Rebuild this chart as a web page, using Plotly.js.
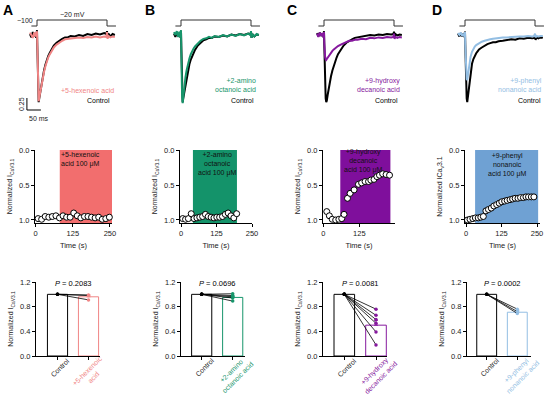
<!DOCTYPE html>
<html><head><meta charset="utf-8">
<script src="https://cdn.plot.ly/plotly-3.0.1.min.js"></script>
<style>html,body{margin:0;padding:0;background:#fff}#chart{width:550px;height:396px}</style>
</head><body><div id="chart"></div>
<script>
// ================= DATA =================
const panelLetters = ['A','B','C','D'];
const drugLegend = ['+5-hexenoic acid', '+2-amino<br>octanoic acid', '+9-hydroxy<br>decanoic acid', '+9-phenyl<br>nonanoic acid'];
const shadeText = ['+5-hexenoic<br>acid 100 μM', '+2-amino<br>octanoic<br>acid 100 μM', '+9-hydroxy<br>decanoic<br>acid 100 μM', '+9-phenyl<br>nonanoic<br>acid 100 μM'];
const catLabels = ['+5-hexenoic<br>acid', '+2-amino<br>octanoic acid', '+9-hydroxy<br>decanoic acid', '+9-phenyl<br>nonanoic acid'];
const drugColors = ['#F08585', '#17956B', '#86199E', '#93BEE3'];
const shadeColors = ['#F26E6E', '#14936A', '#7F0F9C', '#6FA1D3'];

// voltage protocol (ms, mV)
const protoT = [-20, 0, 0, 250, 250, 282];
const protoV = [-100, -100, -20, -20, -100, -100];

// current traces (ms, nA-like units)
const traceT = [-25,-20,-15,-10,-6,-3,-1, 0,1,2,4,6,8,10, 13,16,20,25,30,35,40,45,50, 60,70,80,90,100,110,120, 135,150,165,180,195,210,225,240, 248,250,252,255,262,270,278];
const ctrlA = [0.02,-0.05,0.06,-0.03,0.04,-0.06,0.05, 0.10,-0.20,-0.60,-1.20,-1.40,-1.32,-1.24, -1.12,-1.02,-0.88,-0.74,-0.62,-0.52,-0.44,-0.38,-0.32, -0.22,-0.16,-0.11,-0.08,-0.05,-0.05,-0.02, -0.03,0.00,-0.02,0.02,0.00,0.03,0.01,0.04, 0.02,0.08,-0.06,0.03,-0.03,0.02,0.00];
const drugA = [0.05,0.00,-0.06,0.05,-0.03,0.06,-0.02, 0.08,-0.25,-0.65,-1.22,-1.38,-1.31,-1.24, -1.14,-1.04,-0.91,-0.77,-0.65,-0.55,-0.47,-0.41,-0.35, -0.26,-0.20,-0.15,-0.12,-0.09,-0.08,-0.07, -0.06,-0.05,-0.06,-0.04,-0.05,-0.03,-0.05,-0.03, -0.04,0.06,-0.08,-0.02,-0.05,-0.03,-0.04];
const ctrlB = [0.03,-0.04,0.05,-0.02,0.03,-0.05,0.04, 0.09,-0.22,-0.62,-1.20,-1.40,-1.32,-1.25, -1.12,-1.01,-0.87,-0.73,-0.61,-0.51,-0.43,-0.37,-0.31, -0.22,-0.16,-0.11,-0.09,-0.06,-0.06,-0.03, -0.04,-0.01,-0.03,0.01,-0.01,0.02,0.00,0.03, 0.01,0.07,-0.06,0.02,-0.03,0.01,0.00];
const drugB = [0.06,0.00,0.08,-0.04,0.07,-0.05,0.06, 0.10,-0.30,-0.80,-1.30,-1.42,-1.28,-1.15, -1.00,-0.88,-0.74,-0.60,-0.49,-0.40,-0.33,-0.28,-0.24, -0.17,-0.12,-0.08,-0.07,-0.04,-0.06,-0.02, -0.04,0.00,-0.03,0.01,-0.02,0.02,-0.01,0.03, 0.00,0.08,-0.06,0.02,-0.03,0.02,0.00];
const ctrlC = [0.04,-0.03,0.05,-0.02,0.03,-0.04,0.04, 0.08,-0.20,-0.55,-1.10,-1.32,-1.40,-1.37, -1.25,-1.14,-1.00,-0.86,-0.74,-0.63,-0.54,-0.47,-0.40, -0.30,-0.22,-0.16,-0.12,-0.09,-0.06,-0.05, -0.03,-0.02,0.00,-0.01,0.01,0.00,0.02,0.01, 0.02,0.07,-0.05,0.02,-0.01,0.01,0.00];
const drugC = [0.03,-0.04,0.05,-0.02,0.04,-0.05,0.03, 0.06,-0.15,-0.32,-0.46,-0.51,-0.52,-0.50, -0.47,-0.45,-0.42,-0.38,-0.33,-0.30,-0.27,-0.25,-0.23, -0.20,-0.17,-0.15,-0.12,-0.12,-0.10,-0.10, -0.08,-0.09,-0.06,-0.07,-0.05,-0.06,-0.04,-0.05, -0.04,0.03,-0.08,-0.04,-0.06,-0.04,-0.05];
const ctrlD = [0.03,-0.03,0.04,-0.03,0.03,-0.04,0.03, 0.07,-0.20,-0.55,-1.10,-1.32,-1.40,-1.30, -1.10,-0.94,-0.76,-0.60,-0.50,-0.43,-0.38,-0.34,-0.30, -0.26,-0.22,-0.19,-0.17,-0.15,-0.15,-0.13, -0.12,-0.10,-0.09,-0.10,-0.07,-0.08,-0.06,-0.07, -0.06,0.02,-0.10,-0.05,-0.07,-0.05,-0.06];
const drugD = [0.04,0.00,0.05,-0.02,0.03,-0.03,0.03, 0.06,-0.20,-0.50,-0.80,-0.92,-0.94,-0.85, -0.72,-0.60,-0.45,-0.35,-0.28,-0.24,-0.21,-0.19,-0.17, -0.14,-0.12,-0.10,-0.09,-0.08,-0.07,-0.06, -0.05,-0.05,-0.04,-0.04,-0.03,-0.03,-0.02,-0.03, -0.02,0.03,-0.05,-0.02,-0.03,-0.02,-0.02];
const scaleMs = 50, scaleAmp = 0.25;

// time courses (s, normalized current)
const tcTimeA = [8,20,32,44,56,68,80,92,104,116,128,140,152,164,176,188,200,212,224,236,248];
const tcValA  = [0.98,0.99,0.95,0.96,0.95,0.94,0.97,0.94,0.96,0.96,0.90,0.94,0.97,0.95,0.95,0.96,0.97,0.96,0.99,0.98,0.96];
const tcTimeB = [6,16,26,36,46,56,66,76,86,96,106,116,126,136,146,156,166,176,186,196];
const tcValB  = [0.98,0.99,0.98,0.91,0.98,0.97,0.96,0.95,0.92,0.95,0.96,0.97,0.96,0.96,0.95,0.92,0.90,0.94,0.97,0.91];
const tcTimeC = [12,21,31,43,54,64,72,84,93,107,122,133,145,157,165,176,186,195,206,218,230];
const tcValC  = [0.88,0.94,0.99,1.00,0.99,0.98,0.92,0.69,0.62,0.57,0.49,0.47,0.45,0.45,0.43,0.42,0.38,0.36,0.34,0.35,0.36];
const tcTimeD = [5,14,24,33,43,52,61,70,79,89,98,108,117,126,136,145,155,164,173,183,192,202,211,220,230,239];
const tcValD  = [1.00,0.99,0.98,0.97,0.97,0.96,0.95,0.87,0.85,0.83,0.80,0.78,0.76,0.74,0.73,0.72,0.71,0.70,0.69,0.69,0.68,0.68,0.67,0.67,0.67,0.67];
const shadeStart = [81, 42, 59, 32];
const shadeEnd   = [257, 197, 233, 254];

// bar charts
const ctrlBar = [1.0, 1.0, 1.0, 1.0];
const drugBar = [0.96, 0.95, 0.50, 0.71];
const drugSem = [0.03, 0.02, 0.08, 0.03];
const pairedA = [0.99, 0.98, 0.91];
const pairedB = [1.01, 0.98, 0.96, 0.94, 0.89];
const pairedC = [0.76, 0.66, 0.59, 0.53, 0.39, 0.18];
const pairedD = [0.76, 0.72, 0.69];
const pValues = ['0.2083', '0.0696', '0.0081', '0.0002'];

// ================= LAYOUT HELPERS =================
const W = 550, H = 396;
const FONT = 'Liberation Sans, Arial, sans-serif';
const px2x = p => p / W;
const px2y = p => 1 - p / H;
const ctrl = [ctrlA, ctrlB, ctrlC, ctrlD];
const drug = [drugA, drugB, drugC, drugD];
const tcT = [tcTimeA, tcTimeB, tcTimeC, tcTimeD];
const tcV = [tcValA, tcValB, tcValC, tcValD];
const paired = [pairedA, pairedB, pairedC, pairedD];

const data = [];
const layout = {
  width: W, height: H, margin: {l:0, r:0, t:0, b:0},
  paper_bgcolor: '#fff', plot_bgcolor: 'rgba(0,0,0,0)',
  showlegend: false, font: {family: FONT, size: 7, color: '#222'},
  shapes: [], annotations: []
};
const ann = (o) => layout.annotations.push(Object.assign({showarrow:false, xanchor:'center', yanchor:'middle', font:{family:FONT, size:7, color:'#222'}}, o));

// row 1: traces
const pulseX = [37, 181, 324, 465];
const msPx = 0.28, ampPx = 48, basePx = 35;
const mvToY = v => (basePx - 26) / ampPx + (v + 100) / 80 * (6 / ampPx);
for (let i = 0; i < 4; i++) {
  const n = i + 1, xa = 'x' + n, ya = 'y' + n;
  layout['xaxis' + n] = {domain: [px2x(pulseX[i] - 17), px2x(pulseX[i] + 83)], range: [-17 / msPx, 83 / msPx], visible: false, anchor: ya};
  layout['yaxis' + n] = {domain: [px2y(115), px2y(10)], range: [-(115 - basePx) / ampPx, (basePx - 10) / ampPx], visible: false, anchor: xa};
  data.push({type:'scatter', mode:'lines', x: protoT, y: protoV.map(mvToY), xaxis: xa, yaxis: ya, line:{color:'#333', width:1}});
  data.push({type:'scatter', mode:'lines', x: traceT, y: ctrl[i], xaxis: xa, yaxis: ya, line:{color:'#000', width:2}});
  data.push({type:'scatter', mode:'lines', x: traceT, y: drug[i], xaxis: xa, yaxis: ya, line:{color: drugColors[i], width:2}});
}
// panel letters
const letterX = [7.5, 150, 292, 437];
panelLetters.forEach((L, i) => ann({xref:'paper', yref:'paper', x: px2x(letterX[i]), y: px2y(10), text: '<b>' + L + '</b>', font:{family:FONT, size:14, color:'#000'}}));
// protocol labels
ann({xref:'paper', yref:'paper', x: px2x(35), y: px2y(21), xanchor:'right', text:'−100'});
ann({xref:'paper', yref:'paper', x: px2x(72), y: px2y(15), text:'−20 mV'});
// scale bar (panel A)
const sbT0 = -36, sbI0 = -1.5625;
layout.shapes.push({type:'line', xref:'x', yref:'y', x0: sbT0, x1: sbT0, y0: sbI0, y1: sbI0 + scaleAmp, line:{color:'#000', width:1}});
layout.shapes.push({type:'line', xref:'x', yref:'y', x0: sbT0, x1: sbT0 + scaleMs, y0: sbI0, y1: sbI0, line:{color:'#000', width:1}});
ann({xref:'paper', yref:'paper', x: px2x(21), y: px2y(104), text: String(scaleAmp), textangle: -90});
ann({xref:'paper', yref:'paper', x: px2x(39), y: px2y(118), text: scaleMs + ' ms'});
// legends
const legRight = [116, 258, 402, 544];
const legY = [90, 85, 85, 85];
const ctlRight = [112, 256, 400, 543];
for (let i = 0; i < 4; i++) {
  ann({xref:'paper', yref:'paper', x: px2x(legRight[i]), y: px2y(legY[i]), xanchor:'right', align:'right', text: drugLegend[i], font:{family:FONT, size:7, color: drugColors[i]}});
  ann({xref:'paper', yref:'paper', x: px2x(ctlRight[i]), y: px2y(100), xanchor:'right', text: 'Control', font:{family:FONT, size:7, color:'#000'}});
}

// row 2: time courses
const axisBase = {showline:true, linecolor:'#000', linewidth:1, ticks:'outside', ticklen:3, tickwidth:1, tickcolor:'#000', showgrid:false, zeroline:false, tickfont:{family:FONT, size:7.5, color:'#222'}};
const tcAxisX = [35, 180, 323, 465];
const tcZeroX = [35.7, 181, 323.3, 466];
const tcScale = [0.297, 0.284, 0.288, 0.284];
const tcEndX  = [112, 252, 395, 540];
const tcYmax = 1.043;
const tcTextX = [80, 217, 363, 507];
const tcTextY = [159, 164, 161, 165];
for (let i = 0; i < 4; i++) {
  const n = i + 5, xa = 'x' + n, ya = 'y' + n;
  layout['xaxis' + n] = Object.assign({}, axisBase, {domain: [px2x(tcAxisX[i]), px2x(tcEndX[i])], range: [(tcAxisX[i] - tcZeroX[i]) / tcScale[i], (tcEndX[i] - tcZeroX[i]) / tcScale[i]], tickvals:[0,125,250], anchor: ya, title:{text:'Time (s)', font:{family:FONT, size:7.5, color:'#222'}, standoff:5}});
  layout['yaxis' + n] = Object.assign({}, axisBase, {domain: [px2y(223), px2y(150)], range: [tcYmax, 0], tickvals:[0,0.5,1.0], tickformat:'.1f', anchor: xa, title:{text: i === 3 ? 'Normalized ICa<sub>v</sub>3.1' : 'Normalized I<sub>CaV3.1</sub>', font:{family:FONT, size:7, color:'#222'}, standoff:5}});
  layout.shapes.push({type:'rect', xref: xa, yref: ya, x0: shadeStart[i], x1: shadeEnd[i], y0: 0, y1: tcYmax, fillcolor: shadeColors[i], line:{width:0}, layer:'below'});
  ann({xref:'paper', yref:'paper', x: px2x(tcTextX[i]), y: px2y(tcTextY[i]), text: shadeText[i], font:{family:FONT, size:7, color:'#111'}});
  data.push({type:'scatter', mode:'markers', x: tcT[i], y: tcV[i], xaxis: xa, yaxis: ya, cliponaxis:false, marker:{symbol:'circle', size:6, color:'#fff', line:{color:'#000', width:1}}});
}

// row 3: bars
const barAxisX = [36, 181, 323, 467];
const barCat0 = [57.5, 201.7, 344.3, 486.7];
const barSp = [31, 31, 31.7, 30.6];
const barW = 64;
for (let i = 0; i < 4; i++) {
  const n = i + 9, xa = 'x' + n, ya = 'y' + n;
  layout['xaxis' + n] = Object.assign({}, axisBase, {domain: [px2x(barAxisX[i]), px2x(barAxisX[i] + barW)], range: [(barAxisX[i] - barCat0[i]) / barSp[i], (barAxisX[i] + barW - barCat0[i]) / barSp[i]], tickvals:[0,1], showticklabels:false, anchor: ya});
  layout['yaxis' + n] = Object.assign({}, axisBase, {domain: [px2y(356), px2y(282)], range: [0, 1.2001], tickvals:[0,0.4,0.8,1.2], tickformat:'.1f', anchor: xa, title:{text:'Normalized I<sub>CaV3.1</sub>', font:{family:FONT, size:7, color:'#222'}, standoff:5}});
  data.push({type:'bar', x:[0], y:[ctrlBar[i]], width:0.65, xaxis: xa, yaxis: ya, marker:{color:'#fff', line:{color:'#000', width:1}}});
  data.push({type:'bar', x:[1], y:[drugBar[i]], width:0.65, xaxis: xa, yaxis: ya, marker:{color:'#fff', line:{color: drugColors[i], width:1}},
    error_y:{type:'data', symmetric:false, array:[drugSem[i]], arrayminus:[0], color: drugColors[i], thickness:1, width:2}});
  paired[i].forEach(v => data.push({type:'scatter', mode:'lines+markers', x:[0,1], y:[1.0, v], xaxis: xa, yaxis: ya, cliponaxis:false, line:{color:'#000', width:0.8}, marker:{size:3.5, color:['#000', drugColors[i]]}}));
  ann({xref: xa, yref: ya, x: 0.5, y: 1.17, text: '<i>P</i> = ' + pValues[i], font:{family:FONT, size:7.5, color:'#000'}});
  // rotated category labels
  ann({xref: xa, yref:'paper', x: 0.08, y: px2y(367), text:'Control', textangle:-45, font:{family:FONT, size:7, color:'#222'}});
  ann({xref: xa, yref:'paper', x: 1.06, y: px2y(374), text: catLabels[i], textangle:-45, align:'center', font:{family:FONT, size:7, color: drugColors[i]}});
}

Plotly.newPlot('chart', data, layout, {displayModeBar:false, staticPlot:true});
</script>
</body></html>
